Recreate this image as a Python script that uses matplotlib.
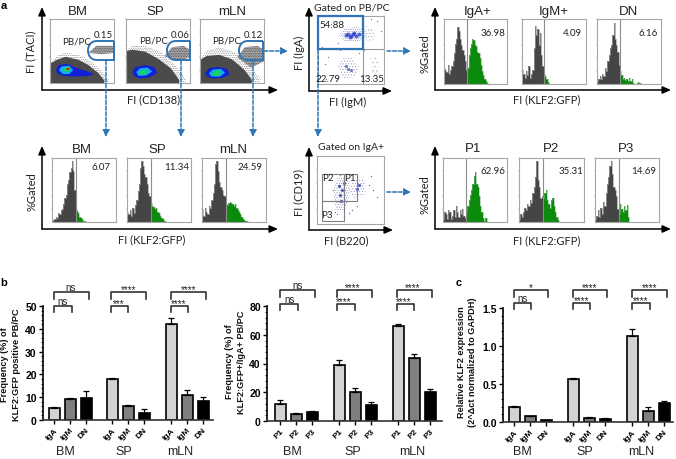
import matplotlib
matplotlib.use('Agg')
import matplotlib.pyplot as plt
from matplotlib.path import Path
from matplotlib.patches import PathPatch, Rectangle
import numpy as np

W, H = 676, 460
BLUE = '#2e75b6'
LABEL_FONT = 'Lato'
BAR_FONT = 'Liberation Sans'
plt.rcParams['hatch.linewidth'] = 0.3

# histograms, % of frame height per bin, gray part then green part
hist_iga = [25, 22, 18, 30, 16, 22, 28, 35, 48, 62, 70, 88, 82, 70, 60, 52, 45, 35, 22]
hist_iga_g = [25, 45, 55, 62, 70, 68, 60, 58, 50, 48, 40, 30, 20, 14, 8, 5, 2, 0]
hist_igm = [22, 15, 10, 20, 14, 28, 10, 15, 22, 55, 90, 75, 85, 60, 78, 45, 28]
hist_igm_g = [15, 12, 8, 3, 0]
hist_dn = [5, 8, 12, 8, 15, 12, 25, 20, 35, 45, 55, 60, 75, 94, 70, 60, 50, 30]
hist_dn_g = [20, 14, 8, 10, 6, 8, 5, 9, 4, 8, 2, 0, 0, 1, 3, 1, 0]
hist_bm = [2, 3, 5, 8, 6, 14, 12, 18, 20, 28, 38, 42, 60, 65, 78, 85, 95, 80, 50]
hist_bm_g = [20, 17, 14, 8, 6, 4, 2, 1, 0]
hist_sp = [15, 12, 18, 10, 22, 14, 26, 35, 48, 60, 85, 95, 88, 75, 70, 60, 45, 40]
hist_sp_g = [30, 25, 24, 20, 22, 16, 14, 9, 6, 5, 2, 1, 0]
hist_mln = [20, 10, 22, 16, 12, 25, 22, 35, 45, 60, 90, 95, 80, 62, 55, 50, 42, 40]
hist_mln_g = [28, 26, 30, 32, 30, 28, 25, 28, 22, 18, 15, 12, 8, 5, 3, 2, 1, 0]
hist_p1 = [5, 15, 12, 5, 18, 15, 5, 10, 18, 8, 25, 15, 8, 18, 12, 20, 10, 6]
hist_p1_g = [15, 25, 35, 42, 50, 60, 72, 78, 60, 55, 40, 25, 15, 6, 2, 6, 0]
hist_p2 = [5, 12, 8, 15, 22, 18, 28, 25, 35, 30, 45, 55, 70, 95, 65, 55, 38, 40]
hist_p2_g = [38, 45, 50, 35, 28, 22, 35, 38, 25, 15, 8, 3, 0]
hist_p3 = [5, 10, 18, 8, 22, 12, 32, 25, 45, 60, 70, 88, 95, 75, 55, 50, 40, 20]
hist_p3_g = [12, 28, 20, 15, 25, 18, 26, 8, 0]

# bar values
iga_labels = ['IgA', 'IgM', 'DN'] * 3
p_labels = ['P1', 'P2', 'P3'] * 3
b1_vals = [5.3, 9.3, 9.8, 17.8, 6.2, 3.0, 42.3, 11.1, 8.3]
b1_errs = [0.6, 0.5, 3.0, 0.5, 0.5, 1.8, 2.3, 2.2, 1.6]
b2_vals = [12, 5, 6, 39, 20, 11, 66, 43.5, 20]
b2_errs = [2.3, 0.5, 1.3, 3.3, 3.3, 2, 1.2, 3, 2.3]
c_vals = [0.2, 0.075, 0.025, 0.56, 0.05, 0.04, 1.13, 0.15, 0.25]
c_errs = [0.01, 0.01, 0.005, 0.02, 0.01, 0.01, 0.1, 0.045, 0.03]
bar_colors = ['#d3d3d3', '#7f7f7f', '#000000'] * 3

# flow plot outlines, fractions of the frame
cloud_bm = [(0, 0), (0, .3), (.1, .36), (.25, .41), (.45, .36), (.6, .28), (.75, .16), (.85, .04), (.85, 0)]
cloud_sp = [(0, 0), (0, .5), (.1, .52), (.3, .49), (.5, .38), (.7, .23), (.83, .05), (.83, 0)]
cloud_mln = [(0, 0), (0, .36), (.1, .42), (.3, .44), (.5, .37), (.7, .2), (.81, .05), (.81, 0)]
speck_bm = [(0, .3), (.1, .42), (.25, .48), (.5, .42), (.66, .32), (.8, .2), (.92, .05), (.9, 0), (.8, 0)]
speck_sp = [(0, .5), (.1, .58), (.3, .58), (.55, .48), (.72, .32), (.84, .2), (.94, .05), (.92, 0), (.8, 0)]
speck_mln = [(0, .35), (.1, .5), (.3, .56), (.55, .48), (.74, .3), (.86, .18), (.95, .05), (.92, 0), (.8, 0)]
band_bm = [(.6, .47), (.72, .58), (1, .58), (1, .47), (.8, .45)]
band_sp = [(.6, .42), (.72, .56), (.9, .58), (1, .52), (1, .4), (.8, .34)]
band_mln = [(.58, .4), (.7, .56), (.9, .58), (1, .52), (1, .34), (.8, .24)]

blue_bm = [(.09, .2), (.13, .28), (.27, .3), (.4, .24), (.53, .2), (.69, .14), (.6, .11), (.4, .1), (.22, .11), (.12, .14)]
cyan_bm = [(.14, .2), (.18, .26), (.3, .27), (.36, .2), (.3, .14), (.2, .14)]
green_bm = [(.2, .2), (.24, .25), (.31, .25), (.32, .2), (.27, .17)]
red_bm = [(.25, .22), (.29, .24), (.31, .22), (.28, .2)]
blue_sp = [(.1, .17), (.15, .25), (.3, .28), (.44, .25), (.49, .16), (.38, .09), (.22, .07), (.12, .11)]
cyan_sp = [(.16, .17), (.22, .23), (.34, .24), (.41, .18), (.32, .12), (.2, .11)]
green_sp = [(.21, .17), (.27, .21), (.33, .19), (.3, .13), (.23, .13)]
blue_mln = [(.08, .15), (.14, .23), (.28, .25), (.42, .22), (.47, .14), (.36, .08), (.2, .07), (.11, .1)]
cyan_mln = [(.14, .15), (.2, .21), (.33, .22), (.39, .16), (.31, .1), (.18, .1)]
green_mln = [(.2, .15), (.26, .2), (.32, .18), (.29, .11), (.22, .11)]

# clusters and sparse events in the two dot plots, fractions of the frame
igm_top = [(.32, .72), (.4, .82), (.6, .84), (.72, .8), (.74, .68), (.6, .62), (.4, .62)]
igm_low = [(.3, .25), (.38, .38), (.52, .38), (.62, .25), (.55, .1), (.4, .08)]
igm_right = [(.72, .85), (.85, .82), (.86, .66), (.74, .6)]
igm_far = [(.8, .42), (.92, .36), (.92, .08), (.82, .06)]
b220_left = [(.24, .5), (.3, .68), (.46, .7), (.5, .5), (.42, .2), (.28, .2)]
b220_right = [(.48, .48), (.55, .68), (.72, .66), (.72, .44), (.55, .38)]
igm_x = [.12, .2, .3, .25, .7, .15, .95, .1, .8, .9, .06, .62, .34]
igm_y = [.08, .88, .6, .12, .5, .4, .78, .3, .96, .92, .55, .45, .5]
b220_x = [.27, .24, .8, .9, .6, .52, .48, .3, .4, .35, .78, .84]
b220_y = [.18, .5, .7, .4, .26, .2, .16, .14, .12, .72, .58, .5]
core_x = [.45, .5, .55, .48, .53, .58, .42, .62]
core_y = [.74, .71, .75, .69, .73, .71, .72, .74]


def px_axes(x0, y0, x1, y1):
    return fig.add_axes([x0 / W, 1 - y1 / H, (x1 - x0) / W, (y1 - y0) / H])


def frame(ax):
    ax.set_xlim(0, 1)
    ax.set_ylim(0, 1)
    ax.set_xticks([.2, .4, .6, .8, 1])
    ax.set_yticks([.2, .4, .6, .8, 1])
    ax.set_xticklabels([])
    ax.set_yticklabels([])
    ax.tick_params(length=1, width=0.3, color='#777777')
    for s in ax.spines.values():
        s.set_color('#a6a6a6')
        s.set_linewidth(0.8)


def hist(box, gray, green, gate):
    ax = px_axes(*box)
    frame(ax)
    vals = np.array(gray + green) / 100
    # the last gray bin meets the gate line, green carries on from there
    edges = np.linspace(0, gate, len(gray) + 1)
    step = edges[1] - edges[0]
    edges = np.concatenate([edges, gate + step * np.arange(1, len(green) + 1)])
    n = len(gray)
    ax.stairs(vals[:n], edges[:n + 1], fill=True, color='#454545')
    ax.stairs(vals[:n], edges[:n + 1], color='#9c9c9c', lw=0.5)
    ax.stairs(vals[n:], edges[n:], fill=True, color='#0b8a0b')
    ax.stairs(vals[n:], edges[n:], color='#79b879', lw=0.4)
    ax.axvline(gate, color='#8c8c8c', lw=0.8)
    return ax


def poly(ax, pts, color, **kw):
    xs, ys = zip(*pts)
    ax.fill(xs, ys, color=color, lw=0, **kw)


def speckle(ax, pts, color, hatch='.........'):
    xs, ys = zip(*pts)
    ax.fill(xs, ys, fill=False, edgecolor=color, hatch=hatch, lw=0)


def density(box, speck, cloud, band, layers, strip):
    ax = px_axes(*box)
    frame(ax)
    speckle(ax, speck, '#555555')
    poly(ax, band, '#a4a4a4')
    speckle(ax, band, '#333333', '..........')
    poly(ax, cloud, '#4b4b4b')
    for pts, c in zip(layers, ['#1020d8', '#10b0e8', '#20d060', '#e81010']):
        poly(ax, pts, c)
    ax.plot([0.004, 0.004], [0.03, 0.3], color=strip, lw=1)
    return ax


def bars(box, vals, errs, labels, xpos, ymax, yticks, fmt, minor):
    ax = px_axes(*box)
    ax.bar(xpos, vals, width=11, color=bar_colors, edgecolor='black', linewidth=1.2)
    ax.errorbar(xpos, vals, yerr=[np.zeros(len(errs)), errs], fmt='none', ecolor='black',
                elinewidth=0.9, capsize=2.5, capthick=0.9)
    ax.set_xlim(box[0], box[2])
    ax.set_ylim(0, ymax)
    ax.set_yticks(yticks)
    ax.set_yticklabels([fmt % t for t in yticks], fontweight='bold', fontsize=7.5, family=BAR_FONT)
    ax.set_yticks(minor, minor=True)
    ax.set_xticks(xpos)
    ax.set_xticklabels(labels, rotation=45, ha='right', rotation_mode='anchor', fontweight='bold',
                       fontsize=6, family=BAR_FONT)
    ax.tick_params(axis='both', which='major', length=3, width=1, pad=1.5)
    ax.tick_params(axis='y', which='minor', length=1.5, width=0.6)
    ax.spines[['top', 'right']].set_visible(False)
    ax.spines[['left', 'bottom']].set_linewidth(1.2)
    ax.spines['bottom'].set_color('#333333')
    ax.patch.set_alpha(0)
    return ax


fig = plt.figure(figsize=(W / 100, H / 100), dpi=100)

# panel a, top row
density((50, 20, 114, 84), speck_bm, cloud_bm, band_bm, [blue_bm, cyan_bm, green_bm, red_bm], '#e02020')
density((126, 20, 190, 84), speck_sp, cloud_sp, band_sp, [blue_sp, cyan_sp, green_sp], '#20b040')
density((200, 20, 264, 84), speck_mln, cloud_mln, band_mln, [blue_mln, cyan_mln, green_mln], '#3040d0')

ax_igm = px_axes(318, 17, 384, 85)
frame(ax_igm)
speckle(ax_igm, igm_top, '#6a6ab0')
speckle(ax_igm, igm_low, '#7a7ab0', '......')
speckle(ax_igm, igm_right, '#8a8ab8', '.....')
speckle(ax_igm, igm_far, '#9a9ac0', '....')
ax_igm.scatter(igm_x, igm_y, s=0.8, color='#6a6aa8', lw=0)
ax_igm.scatter(core_x, core_y, s=8, color='#3040c8', lw=0, alpha=0.8)
ax_igm.scatter([.42, .45, .5], [.27, .22, .2], s=5, color='#6a7ab8', lw=0)
ax_igm.axvline(.68, color='#999999', lw=0.8)
ax_igm.axhline(.52, color='#999999', lw=0.8)

hist((444, 20, 507, 85), hist_iga, hist_iga_g, .37)
hist((522, 20, 586, 85), hist_igm, hist_igm_g, .34)
hist((597, 20, 661, 85), hist_dn, hist_dn_g, .36)

# panel a, bottom row
hist((52, 159, 116, 223), hist_bm, hist_bm_g, .37)
hist((127, 159, 191, 223), hist_sp, hist_sp_g, .37)
hist((202, 159, 266, 223), hist_mln, hist_mln_g, .37)

ax_b220 = px_axes(317, 157, 384, 225)
frame(ax_b220)
speckle(ax_b220, b220_left, '#6a6ab0', '.......')
speckle(ax_b220, b220_right, '#7a7ab0', '......')
ax_b220.scatter(b220_x, b220_y, s=0.9, color='#6a6aa8', lw=0)
ax_b220.scatter([.33, .38, .35, .4, .36, .6, .63], [.56, .5, .42, .6, .34, .52, .58], s=5, color='#4a5ac8', lw=0)

hist((443, 159, 507, 223), hist_p1, hist_p1_g, .36)
hist((519, 159, 584, 223), hist_p2, hist_p2_g, .37)
hist((595, 159, 659, 223), hist_p3, hist_p3_g, .37)

# panels b and c
b1_x = [54, 70, 86, 112, 128, 144, 171, 187, 203]
b2_x = [280, 296, 312, 339, 355, 371, 398, 414, 430]
c_x = [514, 530, 546, 573, 589, 605, 632, 648, 664]
bars((43, 307, 213, 421), b1_vals, b1_errs, iga_labels, b1_x, 50, [0, 10, 20, 30, 40, 50], '%d', np.arange(0, 51, 2))
bars((267, 307, 442, 422), b2_vals, b2_errs, p_labels, b2_x, 80, [0, 20, 40, 60, 80], '%d', np.arange(0, 81, 4))
bars((503, 309, 673, 423), c_vals, c_errs, iga_labels, c_x, 1.5, [0, 0.5, 1.0, 1.5], '%.1f', np.arange(0, 1.51, 0.1))

# overlay in pixel coordinates for labels, gates and arrows
ov = fig.add_axes([0, 0, 1, 1], zorder=10)
ov.set_xlim(0, W)
ov.set_ylim(H, 0)
ov.axis('off')
ov.patch.set_alpha(0)


def txt(x, y, s, size=8, family=LABEL_FONT, **kw):
    ov.text(x, y, s, ha='center', va='center', fontsize=size, family=family, color=kw.pop('color', '#222222'), **kw)


def big_arrow(x0, y0, x1, y1):
    ov.annotate('', xy=(x1, y1), xytext=(x0, y0),
                arrowprops=dict(arrowstyle='-|>,head_width=0.22,head_length=0.5', color='black', lw=1.1,
                                shrinkA=0, shrinkB=0))


def blue_arrow(x0, y0, x1, y1):
    ov.annotate('', xy=(x1, y1), xytext=(x0, y0),
                arrowprops=dict(arrowstyle='-|>,head_width=0.2,head_length=0.4', color=BLUE, lw=1.1,
                                linestyle=(0, (2.5, 1.2)), shrinkA=0, shrinkB=0))


def d_gate(x0, y0, x1, y1):
    mid = (y0 + y1) / 2
    verts = [(x1, y0), (x0 + 9, y0), (x0 + 2, y0), (x0, mid - 4), (x0, mid), (x0, mid + 4), (x0 + 2, y1),
             (x0 + 9, y1), (x1, y1), (x1, y0)]
    codes = [Path.MOVETO, Path.LINETO, Path.CURVE4, Path.CURVE4, Path.CURVE4, Path.CURVE4, Path.CURVE4, Path.CURVE4,
             Path.LINETO, Path.LINETO]
    ov.add_patch(PathPatch(Path(verts, codes), fill=False, edgecolor=BLUE, lw=1.4))


for x0, y0, x1, y1 in [(42, 91, 42, 8), (42, 91, 278, 91), (309, 92, 309, 8), (309, 92, 392, 92),
                       (435, 91, 435, 8), (435, 91, 671, 91), (42, 230, 42, 147), (42, 230, 278, 230),
                       (309, 231, 309, 148), (309, 231, 393, 231), (435, 230, 435, 147), (435, 230, 671, 230)]:
    big_arrow(x0, y0, x1, y1)

d_gate(88, 42, 114, 61)
d_gate(167, 42, 190, 61)
d_gate(239, 42, 263, 61)
ov.add_patch(Rectangle((318, 17), 45, 33, fill=False, edgecolor=BLUE, lw=1.6))

for x, y0 in [(106, 62), (181, 62), (253, 62), (318, 51)]:
    blue_arrow(x, y0, x, 138)
blue_arrow(264, 52, 288, 52)
blue_arrow(387, 52, 411, 52)
blue_arrow(387, 193, 411, 193)

# population gates in the lower dot plot
ov.add_patch(Rectangle((322, 175), 22, 27, fill=False, edgecolor='#808080', lw=0.8))
ov.add_patch(Rectangle((344, 175), 13, 27, fill=False, edgecolor='#808080', lw=0.8))
ov.add_patch(Rectangle((322, 202), 22, 20, fill=False, edgecolor='#808080', lw=0.8))

titles = [(78, 12, 'BM'), (155, 12, 'SP'), (232, 12, 'mLN'), (478, 12, 'IgA+'), (554, 12, 'IgM+'), (629, 12, 'DN'),
          (82, 150, 'BM'), (157, 150, 'SP'), (233, 150, 'mLN'), (473, 149, 'P1'), (551, 149, 'P2'), (626, 149, 'P3')]
for x, y, s in titles:
    txt(x, y, s, size=9.5, family=BAR_FONT)

small = [(103, 35, '0.15'), (180, 35, '0.06'), (253, 35, '0.12'), (77, 42, 'PB/PC'), (154, 41, 'PB/PC'), (227, 41, 'PB/PC'),
         (332, 26, '54.88'), (328, 79, '22.79'), (372, 79, '13.35'), (493, 33, '36.98'), (572, 33, '4.09'),
         (648, 33, '6.16'), (101, 168, '6.07'), (177, 168, '11.34'), (250, 168, '24.59'), (493, 172, '62.96'),
         (571, 172, '35.31'), (644, 172, '14.69'), (328, 179, 'P2'), (350, 179, 'P1'), (327, 216, 'P3')]
for x, y, s in small:
    txt(x, y, s, size=7)

txt(352, 8, 'Gated on PB/PC', size=7.5)
txt(351, 148, 'Gated on IgA+', size=7.5)
txt(154, 100, 'FI (CD138)')
txt(348, 102, 'FI (IgM)')
txt(547, 100, 'FI (KLF2:GFP)')
txt(152, 240, 'FI (KLF2:GFP)')
txt(346, 241, 'FI (B220)')
txt(547, 241, 'FI (KLF2:GFP)')
txt(31, 52, 'FI (TACI)', rotation=90)
txt(299, 53, 'FI (IgA)', rotation=90)
txt(299, 193, 'FI (CD19)', rotation=90)
txt(425, 54, '%Gated', rotation=90)
txt(32, 192, '%Gated', rotation=90)
txt(425, 195, '%Gated', rotation=90)

txt(4, 6, 'a', size=8, family=BAR_FONT, fontweight='bold', color='black')
txt(4, 283, 'b', size=8, family=BAR_FONT, fontweight='bold', color='black')
txt(459, 283, 'c', size=8, family=BAR_FONT, fontweight='bold', color='black')

# significance brackets: x left, x mid, x right, upper y, lower y
brackets = [(54, 71.5, 89, 293, 307, 71, 63, 'ns', 'ns'), (110.5, 128, 146, 293, 307, 129, 119, '****', '***'),
            (171, 188, 206, 293, 307, 189, 179, '****', '****'),
            (280, 298, 315, 291, 305, 298, 290, 'ns', 'ns'), (337, 355, 372, 291, 305, 353, 344, '****', '****'),
            (397, 414, 432, 291, 305, 413, 404, '****', '****'),
            (514, 531, 548, 291, 304, 531, 523, '*', 'ns'), (573, 590, 607, 291, 304, 590, 582, '****', '****'),
            (632, 650, 667, 291, 304, 650, 641, '****', '****')]
for xl, xm, xr, yu, yl, tu, tl, su, sl in brackets:
    ov.plot([xl, xl, xr, xr], [yu + 7, yu, yu, yu + 7], color='#333333', lw=1.2)
    ov.plot([xl, xl, xm, xm], [yl + 6, yl, yl, yl + 6], color='#333333', lw=1.2)
    for tx, yy, s in [(tu, yu - 5, su), (tl, yl - 5, sl)]:
        txt(tx, yy + (2 if s.startswith('*') else 0), s, size=7, family=BAR_FONT)

for xs, y in [((65, 124, 180), 452), ((292, 353, 412), 452), ((522, 585, 641), 452)]:
    for x, s in zip(xs, ['BM', 'SP', 'mLN']):
        txt(x, y, s, size=9, family=BAR_FONT)

for x, y, s in [(10.5, 365, 'Frequency (%) of\nKLF2:GFP positive PB/PC'),
                (235.5, 362, 'Frequency (%) of\nKLF2:GFP+/IgA+ PB/PC'),
                (467, 362, 'Relative KLF2 expression\n(2^\u0394ct normalized to GAPDH)')]:
    ov.text(x, y, s, rotation=90, ha='center', va='center', fontsize=6.6, fontweight='bold', family=BAR_FONT,
            linespacing=1.3, color='#111111')

fig.savefig('out.png', dpi=100)
